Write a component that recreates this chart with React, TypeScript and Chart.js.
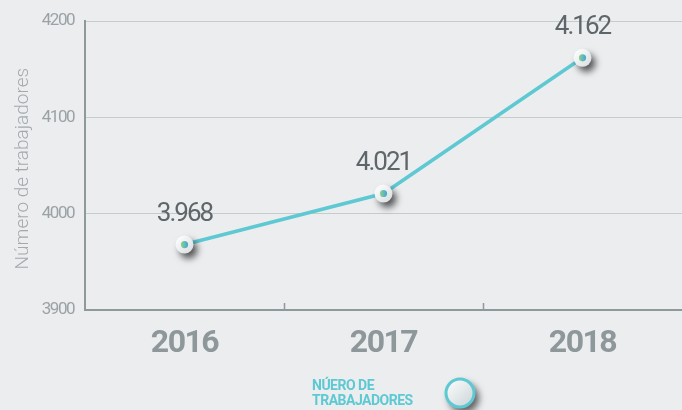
import React, { useEffect, useRef } from "react";
import { Chart, registerables } from "chart.js";

Chart.register(...registerables);

const years = ["2016", "2017", "2018"];
const workers = [3968, 4021, 4162];
const valueLabels = ["3.968", "4.021", "4.162"];
const yTicks = [3900, 4000, 4100, 4200];
const legendLines = ["NÚERO DE", "TRABAJADORES"];
const yTitle = "Número de trabajadores";

const FONT = "'Liberation Sans Narrow', 'Roboto', sans-serif";
const BG = "#ECEDEF";
const TEAL = "#5EC9D3";
const AXIS = "#8E999C";

const bgPlugin = {
  id: "bg",
  beforeDraw(chart: any) {
    const ctx = chart.ctx;
    ctx.save();
    ctx.fillStyle = BG;
    ctx.fillRect(0, 0, chart.width, chart.height);
    ctx.restore();
    // condense the axis text a little
    ctx.letterSpacing = "-1.5px";
  },
};

const tickMarks = {
  id: "tickMarks",
  afterDraw(chart: any) {
    const x = chart.scales.x;
    const ctx = chart.ctx;
    const bottom = chart.chartArea.bottom;
    ctx.save();
    ctx.strokeStyle = AXIS;
    ctx.lineWidth = 1.5;
    for (let i = 0; i < years.length - 1; i++) {
      const px = Math.round((x.getPixelForValue(i) + x.getPixelForValue(i + 1)) / 2) + 0.5;
      ctx.beginPath();
      ctx.moveTo(px, bottom - 7);
      ctx.lineTo(px, bottom);
      ctx.stroke();
    }
    ctx.restore();
  },
};

const yTitlePlugin = {
  id: "yTitle",
  afterDraw(chart: any) {
    const ctx = chart.ctx;
    const area = chart.chartArea;
    ctx.save();
    ctx.letterSpacing = "0px";
    ctx.translate(23, (area.top + area.bottom) / 2 + 3);
    ctx.rotate(-Math.PI / 2);
    ctx.fillStyle = "#A3AAAC";
    ctx.font = `300 19px ${FONT}`;
    ctx.textAlign = "center";
    ctx.textBaseline = "middle";
    ctx.fillText(yTitle, 0, 0);
    ctx.restore();
  },
};

const pointsPlugin = {
  id: "fancyPoints",
  afterDatasetsDraw(chart: any) {
    const ctx = chart.ctx;
    const meta = chart.getDatasetMeta(0);
    meta.data.forEach((pt: any, i: number) => {
      const { x, y } = pt;
      ctx.save();
      ctx.shadowColor = "rgba(0,0,0,0.65)";
      ctx.shadowBlur = 7;
      ctx.shadowOffsetX = 4;
      ctx.shadowOffsetY = 5;
      const g = ctx.createLinearGradient(x - 8, y - 8, x + 8, y + 8);
      g.addColorStop(0, "#FFFFFF");
      g.addColorStop(1, "#D9DEE0");
      ctx.fillStyle = g;
      ctx.beginPath();
      ctx.arc(x, y, 9, 0, Math.PI * 2);
      ctx.fill();
      ctx.restore();
      ctx.save();
      const g2 = ctx.createLinearGradient(x - 3.5, y, x + 3.5, y);
      g2.addColorStop(0, "#8FD08A");
      g2.addColorStop(1, "#3FA6D6");
      ctx.fillStyle = g2;
      ctx.beginPath();
      ctx.arc(x, y, 3.6, 0, Math.PI * 2);
      ctx.fill();
      ctx.restore();
      ctx.save();
      ctx.letterSpacing = "-2px";
      ctx.fillStyle = "#5E6669";
      ctx.font = `26px ${FONT}`;
      ctx.textAlign = "center";
      ctx.textBaseline = "alphabetic";
      ctx.fillText(valueLabels[i], x, y - 24);
      ctx.restore();
    });
  },
};

const legendPlugin = {
  id: "customLegend",
  afterDraw(chart: any) {
    const ctx = chart.ctx;
    const cx = chart.width / 2;
    ctx.save();
    ctx.letterSpacing = "-0.5px";
    ctx.fillStyle = TEAL;
    ctx.font = `bold 14px ${FONT}`;
    ctx.textAlign = "left";
    ctx.textBaseline = "alphabetic";
    ctx.fillText(legendLines[0], cx - 29, 390);
    ctx.fillText(legendLines[1], cx - 29, 405);
    ctx.restore();
    const lx = cx + 119;
    const ly = 393;
    ctx.save();
    ctx.shadowColor = "rgba(0,0,0,0.6)";
    ctx.shadowBlur = 7;
    ctx.shadowOffsetX = 4;
    ctx.shadowOffsetY = 5;
    const g = ctx.createLinearGradient(lx - 14, ly - 14, lx + 14, ly + 14);
    g.addColorStop(0, "#FFFFFF");
    g.addColorStop(1, "#C9D3D6");
    ctx.fillStyle = g;
    ctx.beginPath();
    ctx.arc(lx, ly, 15, 0, Math.PI * 2);
    ctx.fill();
    ctx.restore();
    ctx.save();
    ctx.strokeStyle = TEAL;
    ctx.lineWidth = 3;
    ctx.beginPath();
    ctx.arc(lx, ly, 14, 0, Math.PI * 2);
    ctx.stroke();
    ctx.restore();
  },
};

export default function App() {
  const ref = useRef<HTMLCanvasElement | null>(null);
  useEffect(() => {
    document.body.style.margin = "0";
    document.body.style.background = BG;
    if (!ref.current) return;
    const chart = new Chart(ref.current, {
      type: "line",
      data: {
        labels: years,
        datasets: [
          {
            label: legendLines.join(" "),
            data: workers,
            borderColor: TEAL,
            borderWidth: 3.5,
            pointRadius: 0,
            pointHoverRadius: 0,
            tension: 0,
            fill: false,
          },
        ],
      },
      options: {
        animation: false,
        responsive: false,
        events: [],
        layout: { padding: { top: 20, right: 0, bottom: 40, left: 0 } },
        plugins: { legend: { display: false }, tooltip: { enabled: false } },
        scales: {
          x: {
            offset: true,
            grid: { display: false, drawTicks: false },
            border: { display: true, color: AXIS, width: 2 },
            ticks: {
              color: "#8E979A",
              font: { family: FONT, size: 32, weight: "bold" },
              padding: 15,
            },
            afterFit(scale: any) {
              scale.height = 60;
            },
          },
          y: {
            min: 3900,
            max: 4200,
            afterBuildTicks(scale: any) {
              scale.ticks = yTicks.map((v) => ({ value: v }));
            },
            grid: { color: "#C6CBCD", lineWidth: 1, drawTicks: false },
            border: { display: true, color: AXIS, width: 2 },
            ticks: {
              color: "#9BA2A5",
              font: { family: FONT, size: 17 },
              padding: 11,
              callback: (v: any) => String(v),
            },
            afterFit(scale: any) {
              scale.width = 85;
            },
          },
        },
      },
      plugins: [bgPlugin, tickMarks, pointsPlugin, yTitlePlugin, legendPlugin],
    } as any);
    return () => chart.destroy();
  }, []);
  return <canvas ref={ref} width={682} height={410} style={{ display: "block" }} />;
}
